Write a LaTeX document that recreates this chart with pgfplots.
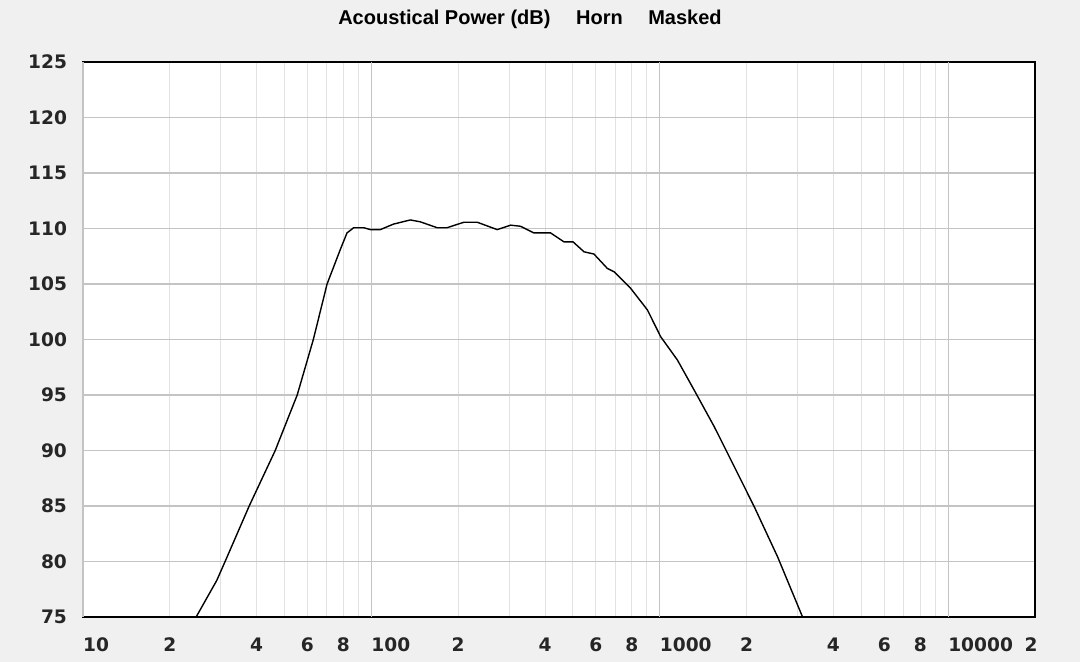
\documentclass[border=0pt]{standalone}
\usepackage{fontspec}
\setmainfont{DejaVu Sans}
\newfontfamily\titlefont{Liberation Sans}
\usepackage{pgfplots}
\pgfplotsset{compat=1.18}

\definecolor{bgcol}{HTML}{F0F0F0}
\definecolor{gridmaj}{HTML}{C4C4C4}
\definecolor{gridmin}{HTML}{E2E2E2}
\definecolor{txt}{HTML}{262626}

\begin{document}
\begin{tikzpicture}[x=1pt,y=1pt]
% page = 1080x662 px at 0.5pt per px
\fill[bgcol] (0,0) rectangle (540,331);
\path[use as bounding box] (0,0) rectangle (540,331);

\node[font=\titlefont\bfseries\fontsize{10}{12}\selectfont, text=black] at (265,321.5)
  {Acoustical Power (dB)\quad\ Horn\quad\ Masked};

\begin{axis}[
    at={(41.5pt,22.5pt)}, anchor=south west,
    scale only axis, width=476pt, height=277.5pt,
    xmode=log, log basis x=10,
    xmin=10, xmax=20000, ymin=75, ymax=125,
    axis background/.style={fill=white},
    axis line style={black, line width=0.8pt},
    major tick length=0pt, minor tick length=0pt,
    ytick={75,80,...,125},
    xtick={20,40,60,80,200,400,600,800,2000,4000,6000,8000,20000},
    xticklabels={2,4,6,8,2,4,6,8,2,4,6,8,\hspace*{-4pt}2},
    minor xtick={30,50,70,90,300,500,700,900,3000,5000,7000,9000},
    extra x ticks={10,100,1000,10000},
    extra x tick labels={10,100,1000,10000},
    extra x tick style={
        grid=major,
        major grid style={gridmaj, line width=0.6pt},
        xticklabel style={anchor=north west, xshift=-3.5pt}},
    ymajorgrids, xmajorgrids, xminorgrids,
    major grid style={gridmin, line width=0.5pt},
    minor grid style={gridmin, line width=0.5pt},
    y grid style={gridmaj, line width=0.6pt},
    tick label style={font=\bfseries\fontsize{9.3}{11}\selectfont, text=txt,
        /pgf/number format/assume math mode=true},
    xticklabel style={yshift=-7pt},
    yticklabel style={xshift=-4.5pt},
    log ticks with fixed point,
    clip=true,
]
\addplot[black, line width=0.7pt] coordinates {
 (20,70.1) (24.8,75.1) (29.1,78.3) (31.1,80) (37.7,85) (46.4,90)
 (55.3,95) (62.9,100) (70.2,105) (78,108.1) (82.3,109.6) (86.8,110.07)
 (94,110.07) (99.3,109.9) (107.4,109.9) (119.4,110.4) (136.5,110.77)
 (147.8,110.6) (169,110.07) (183,110.07) (209,110.56) (233,110.56)
 (273,109.9) (304,110.3) (329,110.2) (366,109.6) (418,109.6)
 (465,108.8) (500,108.8) (546,107.9) (591,107.7) (658,106.4)
 (694,106.1) (793,104.6) (906,102.66) (1007,100.25) (1151,98.15)
 (1315,95.45) (1544,92.15) (1718,89.75) (2125,84.94) (2560,80.43)
 (3126,75.0) (3500,72)
};
\end{axis}
\end{tikzpicture}
\end{document}
